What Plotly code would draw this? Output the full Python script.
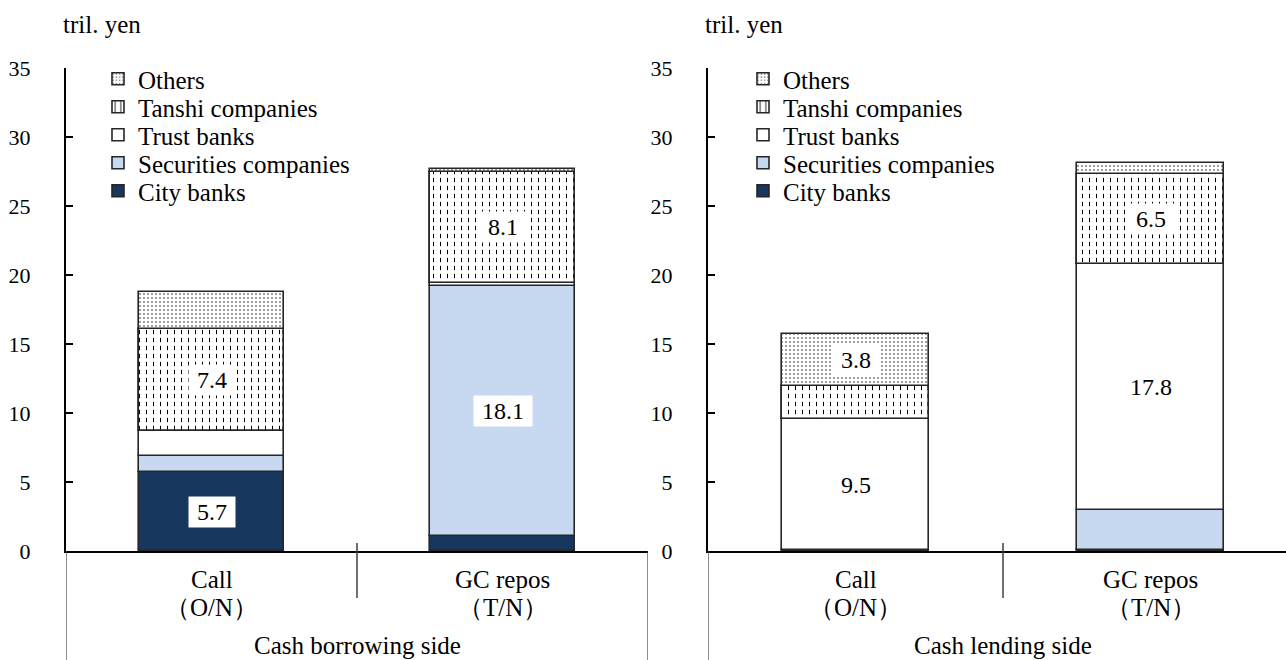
import numpy as np
import plotly.graph_objects as go

# ---------------- data ----------------
categories = ["Call", "GC repos"]
terms = ["（O/N）", "（T/N）"]
series_names = ["City banks", "Securities companies", "Trust banks",
                "Tanshi companies", "Others"]

borrow_city = [5.7, 1.1]
borrow_sec = [1.2, 18.1]
borrow_trust = [1.8, 0.2]
borrow_tanshi = [7.4, 8.1]
borrow_others = [2.7, 0.2]

lend_city = [0.03, 0.1]
lend_sec = [0.02, 2.9]
lend_trust = [9.5, 17.8]
lend_tanshi = [2.4, 6.5]
lend_others = [3.8, 0.8]

panel_titles = ["Cash borrowing side", "Cash lending side"]
y_ticks = [0, 5, 10, 15, 20, 25, 30, 35]
unit_label = "tril. yen"

# ---------------- style ----------------
W, H = 1286, 660
FONT = "Liberation Serif"
EDGE = "#262626"
LABEL_MIN = 3.5

styles = {
    "City banks": dict(color="#17375E"),
    "Securities companies": dict(color="#C6D9F1"),
    "Trust banks": dict(color="white"),
    "Tanshi companies": dict(color="white",
                             pattern=dict(shape="|", fgcolor="black", bgcolor="white",
                                          size=7, solidity=0.15)),
    "Others": dict(color="white",
                   pattern=dict(shape=".", fgcolor="black", bgcolor="white",
                                size=4, solidity=0.1)),
}

y_top_px, y_bot_px = 68, 551
ydom = [(H - y_bot_px) / H, (H - y_top_px) / H]
panels = [
    dict(xa="x", ya="y", dom=[66 / W, 648 / W], rng=[0, 2], leg_x=98,
         data=[borrow_city, borrow_sec, borrow_trust, borrow_tanshi, borrow_others]),
    dict(xa="x2", ya="y2", dom=[708 / W, 1.0], rng=[0, (W - 708) / 295], leg_x=743,
         data=[lend_city, lend_sec, lend_trust, lend_tanshi, lend_others]),
]

fig = go.Figure()
annotations = []
shapes = []
legends = {}
xs = np.arange(len(categories)) + 0.5
n_series = len(series_names)

for p_i, p in enumerate(panels):
    base = np.zeros(len(categories))
    for s_i, (name, vals) in enumerate(zip(series_names, p["data"])):
        vals = np.array(vals, dtype=float)
        st = styles[name]
        # one legend box per entry so the rows can sit as tight as in the source
        row = n_series - 1 - s_i
        leg_id = p_i * n_series + row + 1
        leg_key = "legend" if leg_id == 1 else f"legend{leg_id}"
        legends[leg_key] = dict(x=p["leg_x"] / W, y=(H - (79 + 28 * row)) / H,
                                xanchor="left", yanchor="middle",
                                bgcolor="rgba(0,0,0,0)", borderwidth=0,
                                font=dict(family=FONT, size=25, color="black"))
        marker = dict(color=st["color"], line=dict(color=EDGE, width=1.6))
        if "pattern" in st:
            marker["pattern"] = st["pattern"]
        fig.add_trace(go.Bar(
            x=xs, y=vals, base=base, width=0.5, name=name, marker=marker,
            xaxis=p["xa"], yaxis=p["ya"], legend=leg_key, hoverinfo="skip"))
        if name == "Tanshi companies":
            # white horizontal stripes break the vertical lines into dashes
            fig.add_trace(go.Bar(
                x=xs, y=vals, base=base, width=0.5, showlegend=False,
                marker=dict(color="rgba(0,0,0,0)", line=dict(color=EDGE, width=1.6),
                            pattern=dict(shape="-", fgcolor="white",
                                         bgcolor="rgba(0,0,0,0)", size=8, solidity=0.45)),
                xaxis=p["xa"], yaxis=p["ya"], hoverinfo="skip"))
        for j, v in enumerate(vals):
            if v >= LABEL_MIN:
                annotations.append(dict(
                    x=xs[j], y=base[j] + v / 2, xref=p["xa"], yref=p["ya"],
                    text="\u00a0" + f"{v:.1f}" + "\u00a0", showarrow=False,
                    bgcolor="white", borderpad=2,
                    font=dict(family=FONT, size=24, color="black")))
        base = base + vals

    # category labels
    for j, (c, t) in enumerate(zip(categories, terms)):
        annotations.append(dict(x=xs[j], y=(H - 579) / H, xref=p["xa"], yref="paper",
                                text=c, showarrow=False, yanchor="middle",
                                font=dict(family=FONT, size=25, color="black")))
        annotations.append(dict(x=xs[j], y=(H - 607) / H, xref=p["xa"], yref="paper",
                                text=t, showarrow=False, yanchor="middle",
                                font=dict(family=FONT, size=25, color="black")))
    annotations.append(dict(x=len(categories) / 2, y=(H - 645) / H, xref=p["xa"], yref="paper",
                            text=panel_titles[p_i], showarrow=False, yanchor="middle",
                            font=dict(family=FONT, size=25, color="black")))
    annotations.append(dict(x=p["dom"][0] - 5 / W, y=(H - 25) / H, xref="paper", yref="paper",
                            text=unit_label, showarrow=False, xanchor="left", yanchor="middle",
                            font=dict(family=FONT, size=25, color="black")))
    # category axis separators
    for xb in [0, len(categories)]:
        shapes.append(dict(type="line", xref=p["xa"], yref="paper", x0=xb, x1=xb,
                           y0=ydom[0], y1=0, line=dict(color="#404040", width=1.2)))
    for xb in range(1, len(categories)):
        shapes.append(dict(type="line", xref=p["xa"], yref="paper", x0=xb, x1=xb,
                           y0=(H - 598) / H, y1=(H - 543) / H,
                           line=dict(color="#404040", width=1.5)))

common_x = dict(showgrid=False, zeroline=False, showticklabels=False, ticks="",
                showline=True, linecolor="black", linewidth=2, fixedrange=True,
                automargin=False)
common_y = dict(showgrid=False, zeroline=False, domain=ydom, range=[0, 35],
                tickvals=y_ticks, ticks="inside", ticklen=7, tickwidth=1.5,
                tickcolor="black", showline=True, linecolor="black", linewidth=2,
                tickfont=dict(family=FONT, size=22, color="black"),
                ticklabelstandoff=29, automargin=False, fixedrange=True)

fig.update_layout(
    template="none",
    width=W, height=H, margin=dict(l=0, r=0, t=0, b=0, pad=0, autoexpand=False),
    paper_bgcolor="white", plot_bgcolor="white",
    barmode="overlay", bargap=0,
    font=dict(family=FONT, color="black"),
    annotations=annotations, shapes=shapes,
    xaxis=dict(domain=panels[0]["dom"], range=panels[0]["rng"], anchor="y", **common_x),
    xaxis2=dict(domain=panels[1]["dom"], range=panels[1]["rng"], anchor="y2", **common_x),
    yaxis=dict(anchor="x", **common_y),
    yaxis2=dict(anchor="x2", **common_y),
    showlegend=True,
)
fig.update_layout(**legends)

fig.write_html(
    "out.html",
    config={"displayModeBar": False},
    post_script="document.body.style.margin='0';document.body.style.overflow='hidden';",
)
